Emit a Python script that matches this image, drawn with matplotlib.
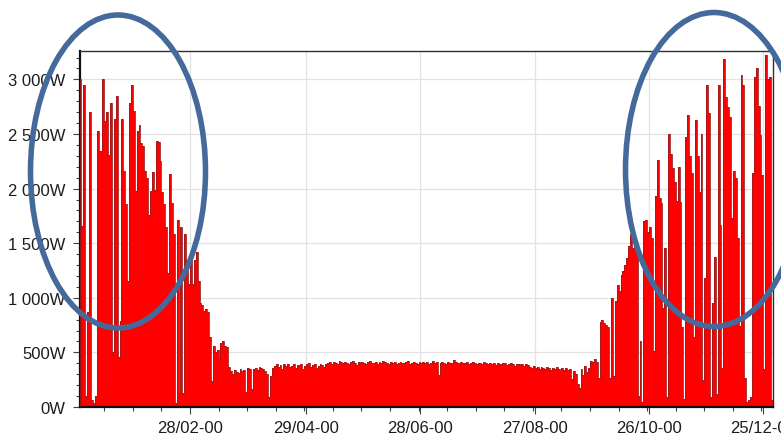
import numpy as np
import pandas as pd
import matplotlib
matplotlib.use("Agg")
import matplotlib.pyplot as plt
from matplotlib.patches import Ellipse
from matplotlib.ticker import FuncFormatter, MultipleLocator, FixedLocator

plt.rcParams['font.family'] = ['Liberation Sans', 'DejaVu Sans']

# Daily average power draw from 2000-01-01, in W
winter_start = [3000, 1660, 2950, 100, 870, 2700, 60, 40, 100, 2530,
                2340, 2340, 3000, 2620, 2700, 2310, 2780, 500, 2640, 2850,
                455, 790, 2640, 2160, 1855, 1150, 2780, 2950, 2710, 1980,
                2530, 2580, 2420, 2390, 2160, 2100, 1760, 1980, 2150, 1990,
                2440, 2430, 2250, 1970, 1860, 1650, 1230, 2130, 1870, 1580,
                40, 1710, 130, 1650, 130, 1580, 1350, 1130, 1400, 1130,
                1350, 1420, 1150, 950, 930, 880, 900, 870, 640, 240,
                560, 500, 520, 440, 590, 600, 560, 550, 370]
spring = [330, 300, 340, 320, 310, 350, 330, 340, 140, 360,
          350, 165, 350, 360, 340, 370, 360, 350, 330, 300,
          90, 280, 360, 380, 390, 370, 385, 350, 390, 380,
          395, 370, 380, 390, 360, 385, 375, 395, 350, 380,
          390, 400, 370, 385, 390, 360, 380, 395, 385, 370, 390]
summer = [400, 410, 395, 415, 405, 390, 420, 410, 400, 415,
          405, 395, 410, 420, 400, 385, 410, 405, 415, 400,
          395, 410, 420, 405, 400, 415, 390, 410, 405, 420,
          410, 400, 395, 415, 405, 410, 390, 400, 415, 405,
          400, 410, 420, 395, 405, 415, 400, 390, 410, 405,
          415, 400, 410, 395, 405, 420, 400, 410, 290, 405,
          410, 400, 395, 415, 405, 400, 430, 410, 400, 395,
          410, 405, 400, 415, 395, 405, 410, 400, 390, 405,
          400, 395, 410, 405, 390, 400, 395, 405, 385, 400,
          395, 390, 405, 400, 385, 395, 400, 390, 380, 395,
          390, 385, 395, 380, 390, 385]
autumn = [370, 360, 375, 355, 365, 350, 370, 360, 345, 365,
          355, 340, 360, 350, 365, 345, 330, 355, 340,
          360, 340, 350, 260, 330, 300, 210, 170, 350, 290,
          380, 320, 360, 425, 410, 440, 410, 270, 780, 800,
          770, 750, 730, 270, 1000, 280, 970, 1120, 1060, 1210,
          1245, 1300, 1365, 1470, 1580, 1460, 1500, 1440, 100, 600,
          50, 1700, 1715, 1600, 1650, 1550]
winter_end = [515, 1930, 2260, 1910, 1870, 910, 1460, 90, 2500, 2320,
              2190, 2060, 1890, 2200, 1880, 730, 70, 2475, 2670, 2300,
              2140, 640, 2630, 2300, 1970, 2500, 250, 1180, 2950, 2690,
              90, 955, 1370, 120, 2950, 1670, 360, 3190, 2840, 2750,
              2660, 1730, 2160, 2100, 1550, 740, 3040, 2950, 270, 45,
              60, 90, 2140, 3020, 3100, 2760, 2490, 2120, 350, 3220,
              3000, 3020, 60]

tick_dates = ["2000-02-28", "2000-04-29", "2000-06-28",
              "2000-08-27", "2000-10-26", "2000-12-25"]

watts = np.array(winter_start + spring + summer + autumn + winter_end, dtype=float)
start = pd.Timestamp("2000-01-01")
edges = np.arange(len(watts) + 1)

fig = plt.figure(figsize=(7.81, 4.39), dpi=100)
ax = fig.add_axes([79.5 / 781, 31 / 439, 693.8 / 781, 356 / 439])

ax.stairs(watts, edges, fill=True, color='#ff0000', linewidth=0, zorder=2)
ax.stairs(watts, edges, color='#9e1b1b', linewidth=0.6, zorder=3)

ax.set_xlim(0, 364.2)
ax.set_ylim(0, 3260)

major_days = [(pd.Timestamp(d) - start).days for d in tick_dates]
ax.set_xticks(major_days)
ax.set_xticklabels([pd.Timestamp(d).strftime('%d/%m-%y') for d in tick_dates])
ax.xaxis.set_minor_locator(FixedLocator(np.arange(13, 365, 15)))

ax.yaxis.set_major_locator(MultipleLocator(500))
ax.yaxis.set_minor_locator(MultipleLocator(100))
ax.yaxis.set_major_formatter(FuncFormatter(lambda v, p: f"{v:,.0f}".replace(',', ' ') + 'W'))

ax.tick_params(which='both', direction='out', color='#404040', width=0.8,
               labelsize=12, labelcolor='#1c1c1c')
ax.tick_params(which='major', length=5)
ax.tick_params(which='minor', length=3)
ax.tick_params(axis='y', pad=5)
ax.tick_params(axis='x', pad=4.5)

ax.set_axisbelow(True)
ax.grid(True, which='major', color='#e2e2e2', linewidth=0.9)

for side in ['top', 'right']:
    ax.spines[side].set_color('#303030')
    ax.spines[side].set_linewidth(1.0)
for side in ['left', 'bottom']:
    ax.spines[side].set_color('#101010')
    ax.spines[side].set_linewidth(1.6)

# highlight rings drawn in pixel space over the whole figure
ov = fig.add_axes([0, 0, 1, 1])
ov.set_xlim(0, 781)
ov.set_ylim(439, 0)
ov.axis('off')
ov.patch.set_alpha(0)
ring = '#44699b'
ov.add_patch(Ellipse((118, 172.5), 175, 313, fill=False, edgecolor=ring, linewidth=4.0))
ov.add_patch(Ellipse((714, 170.5), 177, 314, fill=False, edgecolor=ring, linewidth=4.0, clip_on=False))

fig.savefig('out.png', dpi=100)
